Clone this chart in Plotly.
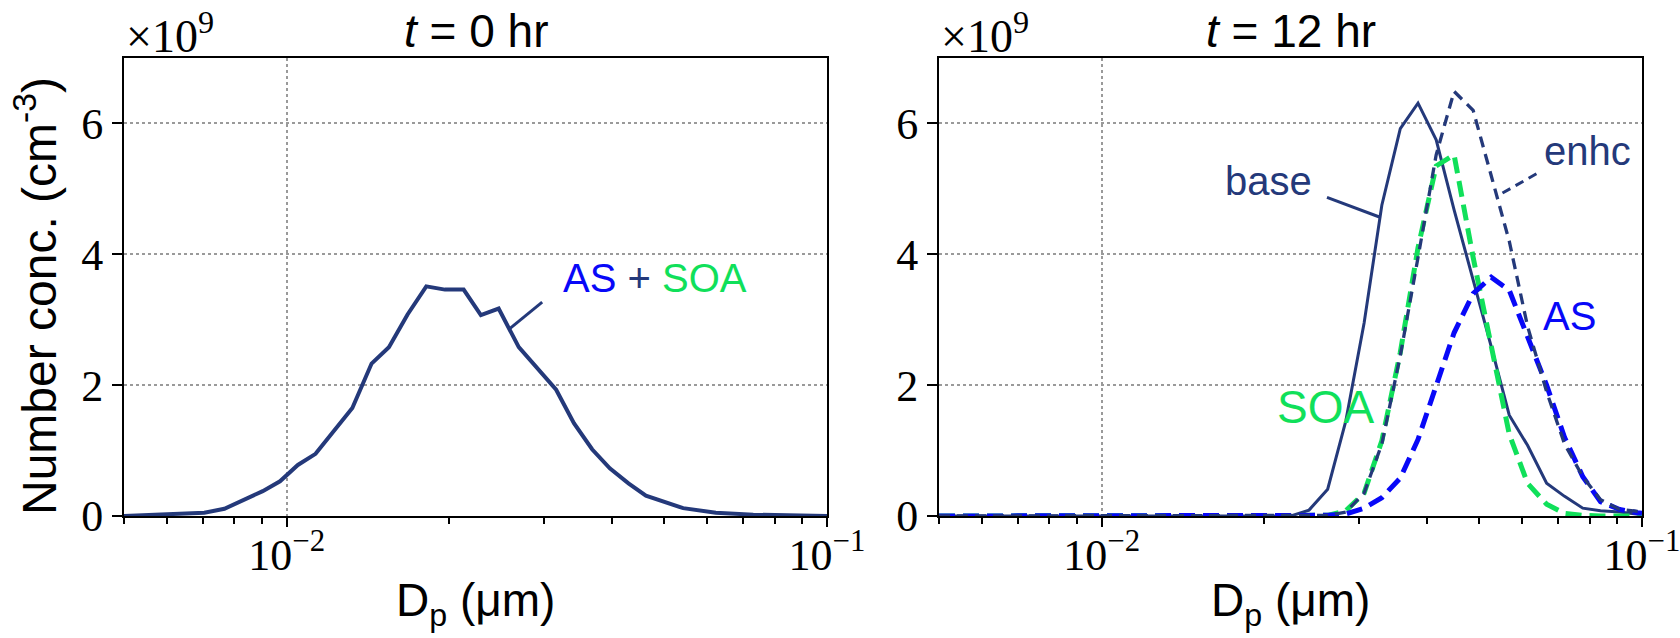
import numpy as np
import plotly.graph_objects as go

# ---------------- data ----------------
# t = 0 hr (AS + SOA total), diameter in um, number conc. in 1e9 cm^-3
d0 = [0.005, 0.0060, 0.00704, 0.00767, 0.00834, 0.00903, 0.00972, 0.01049, 0.01131,
      0.01225, 0.01323, 0.01436, 0.01546, 0.01674, 0.01813, 0.01963, 0.02126, 0.02288,
      0.02468, 0.02689, 0.02911, 0.03153, 0.03401, 0.03675, 0.03963, 0.04291, 0.04622,
      0.05003, 0.05417, 0.06227, 0.07303, 0.1]
n0 = [0.0, 0.03, 0.05, 0.11, 0.24, 0.38, 0.53, 0.78, 0.95, 1.31, 1.65, 2.33, 2.58,
      3.08, 3.51, 3.46, 3.46, 3.07, 3.17, 2.58, 2.26, 1.93, 1.42, 1.02, 0.73, 0.50,
      0.31, 0.21, 0.12, 0.05, 0.02, 0.0]

# t = 12 hr
d12 = [0.005, 0.0224, 0.0242, 0.0262, 0.0283, 0.0306, 0.0330, 0.0357, 0.0385, 0.0416,
       0.0449, 0.0487, 0.0526, 0.0568, 0.0614, 0.0666, 0.0719, 0.0777, 0.0838, 0.0909,
       0.0982, 0.1]
base = [0.0, 0.0, 0.09, 0.41, 1.45, 2.95, 4.75, 5.92, 6.31, 5.75, 4.68, 3.61, 2.59,
        1.54, 1.08, 0.50, 0.30, 0.12, 0.08, 0.06, 0.03, 0.02]
enhc = [0.0, 0.0, 0.0, 0.01, 0.06, 0.35, 1.10, 2.45, 3.95, 5.52, 6.49, 6.20, 5.20,
        4.20, 2.90, 1.90, 1.10, 0.60, 0.25, 0.10, 0.07, 0.06]
soa = [0.0, 0.0, 0.0, 0.01, 0.08, 0.35, 1.15, 2.50, 4.10, 5.35, 5.52, 3.95, 2.60,
       1.25, 0.50, 0.18, 0.04, 0.01, 0.0, 0.0, 0.0, 0.0]
as_ = [0.0, 0.0, 0.0, 0.01, 0.03, 0.12, 0.28, 0.58, 1.17, 2.00, 2.80, 3.40, 3.65,
       3.45, 2.72, 2.00, 1.20, 0.60, 0.22, 0.10, 0.05, 0.04]

# label leader lines (x in um, y in 1e9 cm^-3)
lead_total_x = [0.02584, 0.02971]
lead_total_y = [2.86, 3.27]
lead_base_x = [0.02612, 0.03266]
lead_base_y = [4.87, 4.57]
lead_enhc_x = [0.06377, 0.05475]
lead_enhc_y = [5.23, 4.92]

xtick_vals = [0.01, 0.1]
xtick_text = ["10<sup>\u22122</sup>", "10<sup>\u22121</sup>"]
xminor_vals = [0.005, 0.006, 0.007, 0.008, 0.009, 0.02, 0.03, 0.04, 0.05, 0.06, 0.07, 0.08, 0.09]
ytick_vals = [0, 2, 4, 6]

NAVY = "#24397a"
BLUE = "#0808f8"
GREEN = "#10e05a"

W, H = 1680, 638
SANS = "Liberation Sans, Arial, sans-serif"
SERIF = "Liberation Serif, Times New Roman, serif"

fig = go.Figure()

# left panel
fig.add_trace(go.Scatter(x=d0, y=n0, mode="lines", line=dict(color=NAVY, width=4),
                         xaxis="x", yaxis="y", showlegend=False))
fig.add_trace(go.Scatter(x=lead_total_x, y=lead_total_y, mode="lines",
                         line=dict(color=NAVY, width=3), xaxis="x", yaxis="y", showlegend=False))

# right panel
fig.add_trace(go.Scatter(x=d12, y=base, mode="lines", line=dict(color=NAVY, width=3),
                         xaxis="x2", yaxis="y2", showlegend=False))
fig.add_trace(go.Scatter(x=d12, y=soa, mode="lines",
                         line=dict(color=GREEN, width=5, dash="16px,8px"),
                         xaxis="x2", yaxis="y2", showlegend=False))
fig.add_trace(go.Scatter(x=d12, y=as_, mode="lines",
                         line=dict(color=BLUE, width=5, dash="16px,8px"),
                         xaxis="x2", yaxis="y2", showlegend=False))
fig.add_trace(go.Scatter(x=d12, y=enhc, mode="lines",
                         line=dict(color=NAVY, width=3.3, dash="11px,7px"),
                         xaxis="x2", yaxis="y2", showlegend=False))
fig.add_trace(go.Scatter(x=lead_base_x, y=lead_base_y, mode="lines",
                         line=dict(color=NAVY, width=3), xaxis="x2", yaxis="y2", showlegend=False))
fig.add_trace(go.Scatter(x=lead_enhc_x, y=lead_enhc_y, mode="lines",
                         line=dict(color=NAVY, width=3, dash="9px,6px"),
                         xaxis="x2", yaxis="y2", showlegend=False))

xdom1 = [124 / W, 827 / W]
xdom2 = [939 / W, 1642 / W]
ydom = [(H - 516) / H, (H - 58) / H]

def xax(dom, anchor):
    return dict(type="log", domain=dom, anchor=anchor, range=[np.log10(0.005), -1],
                automargin=False, ticklabeloverflow="allow", ticklabelstandoff=-10,
                tickmode="array", tickvals=xtick_vals, ticktext=xtick_text,
                ticks="outside", ticklen=9, tickwidth=2, tickcolor="black",
                tickfont=dict(family=SERIF, size=44, color="black"),
                showline=True, linecolor="black", linewidth=2, mirror=True,
                showgrid=True, gridcolor="#9a9a9a", griddash="dot", gridwidth=2,
                zeroline=False,
                minor=dict(tickmode="array", tickvals=xminor_vals, ticks="outside",
                           ticklen=6, tickwidth=1.5, tickcolor="black", showgrid=False))

def yax(anchor):
    return dict(domain=ydom, anchor=anchor, range=[0, 7], tickmode="array",
                automargin=False, ticklabeloverflow="allow",
                tickvals=ytick_vals, ticks="outside", ticklen=10, tickwidth=2,
                tickcolor="black", tickfont=dict(family=SERIF, size=44, color="black"),
                showline=True, linecolor="black", linewidth=2, mirror=True,
                showgrid=True, gridcolor="#9a9a9a", griddash="dot", gridwidth=2,
                zeroline=False)

anns = []
def lg(v):
    return float(np.log10(v))

# titles
for cx, txt in [((124 + 827) / 2, "<i>t</i> = 0 hr"), ((939 + 1642) / 2, "<i>t</i> = 12 hr")]:
    anns.append(dict(xref="paper", yref="paper", x=cx / W, y=(H - 31) / H, text=txt,
                     showarrow=False, xanchor="center", yanchor="middle",
                     font=dict(family=SANS, size=46, color="black")))
# x10^9 multipliers
for lx in [124, 939]:
    anns.append(dict(xref="paper", yref="paper", x=lx / W, y=(H - 33) / H,
                     text="\u00d710<sup>9</sup>", showarrow=False, xanchor="left",
                     yanchor="middle", font=dict(family=SERIF, size=46, color="black")))
# axis titles
for cx in [(124 + 827) / 2, (939 + 1642) / 2]:
    anns.append(dict(xref="paper", yref="paper", x=cx / W, y=(H - 603) / H,
                     text="D<sub>p</sub> (\u03bcm)", showarrow=False, xanchor="center",
                     yanchor="middle", font=dict(family=SANS, size=46, color="black")))
anns.append(dict(xref="paper", yref="paper", x=36 / W, y=(H - 296) / H,
                 text="Number conc. (cm<sup>-3</sup>)", textangle=-90, showarrow=False,
                 xanchor="center", yanchor="middle",
                 font=dict(family=SANS, size=48, color="black")))

# series labels
anns.append(dict(xref="x", yref="y", x=lg(0.04811), y=3.645,
                 text=f"<span style='color:{BLUE}'>AS</span> + <span style='color:{GREEN}'>SOA</span>",
                 showarrow=False, xanchor="center", yanchor="middle",
                 font=dict(family=SANS, size=40, color=NAVY)))
anns.append(dict(xref="x2", yref="y2", x=lg(0.02039), y=5.12, text="base", showarrow=False,
                 xanchor="center", yanchor="middle", font=dict(family=SANS, size=40, color=NAVY)))
anns.append(dict(xref="x2", yref="y2", x=lg(0.0793), y=5.58, text="enhc", showarrow=False,
                 xanchor="center", yanchor="middle", font=dict(family=SANS, size=40, color=NAVY)))
anns.append(dict(xref="x2", yref="y2", x=lg(0.07328), y=3.05, text="AS", showarrow=False,
                 xanchor="center", yanchor="middle", font=dict(family=SANS, size=40, color=BLUE)))
anns.append(dict(xref="x2", yref="y2", x=lg(0.02601), y=1.67, text="SOA", showarrow=False,
                 xanchor="center", yanchor="middle", font=dict(family=SANS, size=46, color=GREEN)))

fig.update_layout(
    width=W, height=H, margin=dict(l=0, r=0, t=0, b=0, autoexpand=False),
    paper_bgcolor="white", plot_bgcolor="white",
    xaxis=xax(xdom1, "y"), yaxis=yax("x"),
    xaxis2=xax(xdom2, "y2"), yaxis2=yax("x2"),
    annotations=anns, showlegend=False,
)

fig.write_html("out.html")
